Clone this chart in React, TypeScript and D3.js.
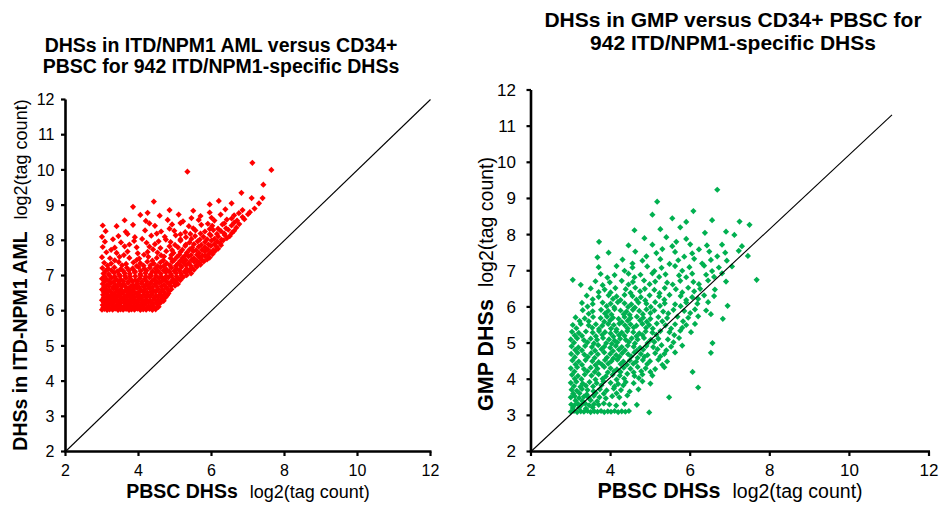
import React from "react";
import * as d3 from "d3";

// ---------- Data ----------
const yTicks = [2, 3, 4, 5, 6, 7, 8, 9, 10, 11, 12];
const xTicks = [2, 4, 6, 8, 10, 12];

const amlTitleLines = ["DHSs in ITD/NPM1 AML versus CD34+", "PBSC for 942 ITD/NPM1-specific DHSs"];
const gmpTitleLines = ["DHSs in GMP versus CD34+ PBSC for", "942 ITD/NPM1-specific DHSs"];

// [PBSC log2(tag count), AML log2(tag count)]
const amlPoints: [number, number][] = [
  [3.00,6.03],[3.07,6.05],[3.14,6.02],[3.21,6.04],[3.29,6.03],[3.36,6.06],[3.44,6.02],[3.51,6.04],[3.58,6.03],[3.66,6.05],[3.74,6.02],[3.81,6.04],[3.89,6.03],[3.97,6.06],[4.05,6.02],[4.13,6.04],[4.21,6.03],[4.30,6.05],[4.38,6.02],[4.47,6.04],
  [3.02,6.16],[3.12,6.14],[3.22,6.18],[3.31,6.13],[3.41,6.17],[3.50,6.15],[3.60,6.12],[3.69,6.18],[3.79,6.15],[3.88,6.13],[3.98,6.17],[4.08,6.14],[4.18,6.18],[4.28,6.13],[4.38,6.16],[4.50,6.19],[4.60,6.22],
  [3.00,6.30],[3.09,6.28],[3.18,6.33],[3.27,6.29],[3.37,6.31],[3.46,6.27],[3.55,6.33],[3.65,6.30],[3.74,6.28],[3.84,6.32],[3.93,6.29],[4.03,6.33],[4.12,6.28],[4.22,6.31],[4.32,6.27],[4.42,6.32],[4.53,6.30],[4.64,6.34],[4.74,6.38],
  [3.03,6.45],[3.13,6.47],[3.23,6.43],[3.33,6.46],[3.43,6.44],[3.53,6.48],[3.63,6.42],[3.73,6.46],[3.83,6.44],[3.94,6.48],[4.04,6.43],[4.15,6.46],[4.26,6.44],[4.37,6.48],[4.48,6.43],[4.59,6.47],[4.70,6.45],[4.82,6.49],
  [3.00,6.60],[3.10,6.62],[3.21,6.58],[3.31,6.63],[3.42,6.59],[3.52,6.61],[3.63,6.57],[3.74,6.62],[3.85,6.60],[3.96,6.64],[4.07,6.58],[4.18,6.61],[4.30,6.63],[4.41,6.58],[4.53,6.62],[4.65,6.60],[4.77,6.64],[4.90,6.61],
  [3.02,6.76],[3.14,6.74],[3.25,6.78],[3.37,6.73],[3.48,6.77],[3.60,6.75],[3.72,6.79],[3.84,6.73],[3.96,6.76],[4.08,6.78],[4.20,6.74],[4.32,6.77],[4.45,6.75],[4.57,6.79],[4.70,6.74],[4.83,6.77],[4.96,6.80],[5.08,6.76],
  [3.00,6.91],[3.13,6.89],[3.26,6.93],[3.39,6.90],[3.52,6.88],[3.65,6.93],[3.78,6.90],[3.91,6.87],[4.04,6.92],[4.17,6.90],[4.30,6.94],[4.43,6.89],[4.56,6.92],[4.69,6.90],[4.82,6.94],[4.95,6.89],[5.09,6.92],[5.22,6.95],
  [3.04,7.06],[3.18,7.04],[3.33,7.08],[3.47,7.03],[3.62,7.07],[3.76,7.05],[3.90,7.09],[4.05,7.04],[4.19,7.07],[4.33,7.03],[4.47,7.08],[4.61,7.05],[4.75,7.09],[4.89,7.04],[5.03,7.07],[5.17,7.05],[5.31,7.09],[5.44,7.06],
  [3.01,7.21],[3.17,7.19],[3.34,7.23],[3.51,7.18],[3.68,7.22],[3.84,7.20],[4.00,7.24],[4.16,7.19],[4.31,7.22],[4.46,7.20],[4.61,7.23],[4.76,7.18],[4.90,7.22],[5.04,7.20],[5.18,7.24],[5.32,7.19],[5.46,7.22],[5.60,7.25],
  [3.06,7.36],[3.25,7.34],[3.46,7.38],[3.66,7.33],[3.86,7.37],[4.05,7.35],[4.24,7.39],[4.42,7.34],[4.60,7.37],[4.77,7.35],[4.93,7.39],[5.08,7.34],[5.23,7.37],[5.38,7.35],[5.52,7.39],[5.66,7.36],[5.79,7.40],
  [3.00,7.52],[3.22,7.49],[3.48,7.53],[3.75,7.50],[4.02,7.48],[4.27,7.53],[4.50,7.50],[4.70,7.54],[4.88,7.49],[5.05,7.52],[5.21,7.50],[5.37,7.54],[5.52,7.49],[5.67,7.52],[5.82,7.55],[5.95,7.51],
  [3.12,7.66],[3.40,7.64],[3.70,7.68],[3.98,7.63],[4.25,7.67],[4.52,7.65],[4.76,7.69],[4.96,7.64],[5.15,7.67],[5.33,7.65],[5.50,7.69],[5.66,7.64],[5.82,7.68],[5.97,7.66],[6.10,7.70],
  [3.02,7.81],[3.35,7.79],[3.62,7.83],[3.95,7.80],[4.30,7.82],[4.60,7.78],[4.85,7.83],[5.08,7.80],[5.28,7.84],[5.47,7.79],[5.65,7.82],[5.82,7.80],[5.98,7.84],[6.14,7.81],[6.26,7.86],
  [3.08,7.96],[3.52,7.94],[3.88,7.98],[4.22,7.93],[4.55,7.97],[4.88,7.95],[5.15,7.99],[5.40,7.94],[5.62,7.97],[5.82,7.95],[6.00,7.99],[6.16,7.96],[6.32,8.00],
  [3.00,8.10],[3.45,8.12],[3.90,8.09],[4.35,8.13],[4.72,8.10],[5.02,8.14],[5.30,8.09],[5.55,8.12],[5.78,8.10],[5.98,8.14],[6.18,8.11],[6.36,8.15],[6.50,8.12],
  [3.10,8.26],[3.65,8.24],[4.18,8.28],[4.62,8.25],[4.98,8.27],[5.28,8.23],[5.56,8.28],[5.82,8.25],[6.05,8.29],[6.26,8.26],[6.46,8.30],[6.62,8.27],
  [3.02,8.42],[3.40,8.40],[3.85,8.44],[4.45,8.41],[4.92,8.45],[5.38,8.40],[5.72,8.44],[6.02,8.41],[6.30,8.45],[6.55,8.42],[6.76,8.46],
  [3.62,8.57],[4.20,8.55],[4.80,8.58],[5.22,8.54],[5.65,8.58],[6.08,8.56],[6.42,8.59],[6.70,8.56],[6.90,8.60],
  [4.05,8.72],[4.58,8.70],[5.10,8.73],[5.70,8.69],[6.25,8.73],[6.62,8.71],[7.00,8.74],
  [3.85,8.95],[4.85,8.86],[5.50,8.84],[6.38,8.88],[6.85,8.86],[7.18,8.90],
  [4.42,9.10],[5.95,9.02],[6.55,9.05],[7.10,9.20],[7.40,9.20],[6.82,9.35],[6.20,9.12],[7.42,9.58],[5.34,9.95],[7.12,10.20],[7.64,10.00],[7.30,9.05]
];

// additional AML points filling the dense lower cluster and the scattered upper part
const amlPointsFill: [number, number][] = [
  [3.04,6.09],[3.17,6.10],[3.27,6.08],[3.36,6.10],[3.46,6.09],[3.55,6.08],[3.64,6.10],[3.74,6.09],[3.84,6.10],[3.93,6.08],[4.03,6.10],[4.13,6.09],[4.23,6.08],[4.33,6.10],[4.43,6.09],[4.55,6.11],
  [3.05,6.23],[3.14,6.24],[3.23,6.22],[3.32,6.23],[3.42,6.24],[3.51,6.22],[3.60,6.23],[3.70,6.24],[3.79,6.22],[3.89,6.23],[3.98,6.24],[4.08,6.22],[4.17,6.23],[4.27,6.24],[4.37,6.22],[4.48,6.23],[4.58,6.25],[4.69,6.28],
  [3.05,6.38],[3.14,6.39],[3.23,6.37],[3.32,6.38],[3.42,6.39],[3.51,6.37],[3.60,6.38],[3.70,6.39],[3.79,6.37],[3.89,6.38],[3.99,6.39],[4.09,6.37],[4.20,6.38],[4.31,6.39],[4.42,6.37],[4.53,6.38],[4.65,6.40],[4.78,6.43],
  [3.05,6.53],[3.16,6.54],[3.26,6.52],[3.37,6.53],[3.47,6.54],[3.58,6.52],[3.69,6.53],[3.79,6.54],[3.90,6.52],[4.01,6.53],[4.12,6.54],[4.24,6.52],[4.35,6.53],[4.47,6.54],[4.59,6.52],[4.71,6.53],[4.84,6.56],
  [3.06,6.68],[3.19,6.69],[3.31,6.67],[3.42,6.68],[3.54,6.69],[3.66,6.67],[3.78,6.68],[3.90,6.69],[4.02,6.67],[4.14,6.68],[4.26,6.69],[4.38,6.67],[4.51,6.68],[4.63,6.69],[4.76,6.67],[4.89,6.69],[5.00,6.71],
  [3.07,6.83],[3.20,6.84],[3.32,6.82],[3.45,6.83],[3.58,6.84],[3.71,6.82],[3.84,6.83],[3.97,6.84],[4.10,6.82],[4.23,6.83],[4.37,6.84],[4.50,6.82],[4.63,6.83],[4.76,6.84],[4.89,6.82],[5.02,6.84],[5.15,6.87],
  [3.07,6.98],[3.21,6.99],[3.35,6.97],[3.49,6.98],[3.63,6.99],[3.77,6.97],[3.91,6.98],[4.06,6.99],[4.20,6.97],[4.34,6.98],[4.48,6.99],[4.62,6.97],[4.76,6.98],[4.90,6.99],[5.04,6.97],[5.18,6.99],[5.32,7.01],
  [3.10,7.13],[3.26,7.14],[3.42,7.12],[3.58,7.13],[3.74,7.14],[3.90,7.12],[4.06,7.13],[4.22,7.14],[4.38,7.12],[4.54,7.13],[4.69,7.14],[4.84,7.12],[4.98,7.13],[5.12,7.14],[5.26,7.12],[5.40,7.14],[5.52,7.16],
  [3.15,7.28],[3.55,7.29],[3.95,7.27],[4.14,7.28],[4.33,7.29],[4.52,7.27],[4.70,7.28],[4.86,7.29],[5.02,7.27],[5.16,7.28],[5.30,7.29],[5.44,7.27],[5.58,7.29],[5.70,7.31],
  [3.35,7.43],[3.95,7.44],[4.38,7.42],[4.68,7.43],[4.98,7.44],[5.15,7.42],[5.30,7.43],[5.45,7.44],[5.60,7.42],[5.74,7.44],[5.88,7.46],
  [3.60,7.58],[4.15,7.59],[4.62,7.57],[4.90,7.58],[5.12,7.59],[5.28,7.57],[5.44,7.58],[5.60,7.59],[5.75,7.57],[5.90,7.59],[6.03,7.61],
  [3.25,7.73],[4.40,7.74],[4.92,7.72],[5.20,7.73],[5.40,7.74],[5.58,7.72],[5.74,7.73],[5.90,7.74],[6.05,7.72],[6.18,7.76],
  [3.75,7.88],[4.45,7.89],[5.00,7.87],[5.30,7.88],[5.52,7.89],[5.72,7.87],[5.92,7.88],[6.08,7.89],[6.24,7.91],
  [3.30,8.03],[4.10,8.04],[4.75,8.02],[5.15,8.03],[5.45,8.04],[5.68,8.02],[5.88,8.03],[6.08,8.04],[6.27,8.02],[6.42,8.06],
  [3.70,8.18],[4.50,8.19],[5.15,8.17],[5.42,8.18],[5.70,8.19],[5.95,8.17],[6.15,8.18],[6.35,8.19],[6.56,8.21],
  [4.85,8.33],[5.50,8.34],[5.95,8.32],[6.18,8.33],[6.40,8.34],[6.68,8.36],
  [4.30,8.48],[5.15,8.49],[5.90,8.47],[6.35,8.48],[6.62,8.50],
  [5.45,8.63],[6.00,8.64],[6.55,8.62],[6.85,8.66],
  [4.25,8.78],[5.95,8.79],[6.75,8.77],[7.05,8.80]
];

// [PBSC log2(tag count), GMP log2(tag count)]
const gmpPoints: [number, number][] = [
  [3.00,3.10],[3.08,3.12],[3.16,3.09],[3.25,3.11],[3.33,3.10],[3.42,3.12],[3.50,3.09],[3.59,3.11],[3.67,3.10],[3.76,3.12],[3.84,3.09],[3.93,3.11],[4.01,3.10],[4.10,3.12],[4.19,3.09],[4.28,3.11],[4.37,3.10],[4.46,3.12],[4.97,3.08],
  [3.01,3.30],[3.09,3.28],[3.18,3.32],[3.27,3.29],[3.36,3.33],[3.46,3.28],[3.58,3.31],[3.70,3.29],[3.83,3.33],[3.97,3.30],[4.14,3.27],[4.35,3.32],[4.66,3.29],
  [3.00,3.50],[3.10,3.53],[3.21,3.48],[3.33,3.52],[3.45,3.49],[3.58,3.54],[3.72,3.50],[3.88,3.47],[4.04,3.53],[4.22,3.50],[4.42,3.55],[5.47,3.50],
  [3.02,3.71],[3.15,3.68],[3.28,3.73],[3.42,3.70],[3.57,3.67],[3.73,3.72],[3.90,3.69],[4.08,3.74],[4.26,3.70],[4.48,3.66],[4.70,3.72],[6.20,3.77],
  [3.00,3.90],[3.14,3.93],[3.30,3.88],[3.47,3.92],[3.65,3.89],[3.82,3.94],[4.00,3.90],[4.19,3.87],[4.38,3.92],[4.58,3.89],[4.80,3.94],[5.00,3.88],
  [3.03,4.12],[3.18,4.09],[3.35,4.13],[3.52,4.10],[3.70,4.14],[3.88,4.08],[4.05,4.12],[4.23,4.10],[4.42,4.15],[4.60,4.09],[4.80,4.13],[5.05,4.10],[6.06,4.20],
  [3.00,4.30],[3.16,4.33],[3.33,4.28],[3.50,4.32],[3.67,4.29],[3.84,4.34],[4.00,4.30],[4.16,4.27],[4.33,4.32],[4.50,4.29],[4.68,4.34],[4.88,4.30],[5.12,4.28],[5.35,4.33],
  [3.04,4.52],[3.20,4.49],[3.37,4.53],[3.54,4.50],[3.70,4.47],[3.86,4.53],[4.02,4.50],[4.17,4.54],[4.32,4.49],[4.48,4.52],[4.64,4.48],[4.81,4.53],[4.99,4.50],[5.20,4.54],[5.42,4.49],
  [3.01,4.70],[3.17,4.73],[3.34,4.68],[3.51,4.72],[3.68,4.69],[3.84,4.74],[3.99,4.70],[4.14,4.67],[4.29,4.72],[4.44,4.69],[4.60,4.74],[4.76,4.70],[4.93,4.67],[5.12,4.72],[5.35,4.70],[5.62,4.74],[6.52,4.73],
  [3.02,4.91],[3.19,4.88],[3.36,4.92],[3.53,4.89],[3.69,4.94],[3.84,4.90],[3.99,4.87],[4.13,4.92],[4.28,4.89],[4.43,4.93],[4.58,4.90],[4.74,4.87],[4.90,4.92],[5.07,4.89],[5.28,4.94],[5.52,4.90],[5.80,4.93],
  [3.00,5.10],[3.16,5.13],[3.33,5.08],[3.50,5.12],[3.66,5.09],[3.81,5.14],[3.96,5.10],[4.10,5.07],[4.24,5.12],[4.38,5.09],[4.53,5.13],[4.68,5.10],[4.84,5.14],[5.01,5.09],[5.20,5.12],[5.44,5.10],[5.72,5.14],[6.56,5.00],
  [3.03,5.31],[3.20,5.28],[3.38,5.32],[3.55,5.29],[3.71,5.33],[3.86,5.30],[4.00,5.27],[4.14,5.32],[4.28,5.29],[4.42,5.33],[4.57,5.30],[4.72,5.27],[4.88,5.32],[5.05,5.29],[5.25,5.33],[5.48,5.30],[5.75,5.34],[6.02,5.30],
  [3.05,5.50],[3.25,5.53],[3.45,5.49],[3.63,5.52],[3.79,5.48],[3.94,5.53],[4.08,5.50],[4.22,5.54],[4.36,5.49],[4.50,5.52],[4.65,5.48],[4.80,5.53],[4.97,5.50],[5.16,5.54],[5.38,5.49],[5.62,5.52],[5.90,5.50],[6.12,5.53],
  [3.12,5.71],[3.35,5.68],[3.56,5.72],[3.75,5.69],[3.91,5.73],[4.06,5.70],[4.20,5.67],[4.35,5.72],[4.50,5.69],[4.66,5.73],[4.82,5.70],[5.00,5.67],[5.20,5.72],[5.42,5.69],[5.68,5.73],[5.95,5.70],[6.20,5.74],[6.82,5.67],
  [3.30,5.91],[3.55,5.88],[3.76,5.92],[3.94,5.89],[4.10,5.94],[4.25,5.90],[4.40,5.87],[4.56,5.92],[4.72,5.89],[4.90,5.93],[5.10,5.90],[5.32,5.87],[5.58,5.92],[5.85,5.89],[6.12,5.93],[6.40,5.90],[6.52,5.80],
  [3.28,6.11],[3.55,6.08],[3.80,6.12],[4.00,6.09],[4.18,6.13],[4.35,6.10],[4.52,6.07],[4.70,6.12],[4.90,6.09],[5.12,6.13],[5.36,6.10],[5.62,6.07],[5.90,6.12],[6.18,6.09],[6.45,6.13],[6.94,6.03],
  [3.40,6.31],[3.70,6.28],[3.95,6.32],[4.15,6.29],[4.35,6.33],[4.55,6.30],[4.76,6.27],[4.98,6.32],[5.22,6.29],[5.48,6.33],[5.76,6.30],[6.05,6.27],[6.35,6.32],[6.60,6.30],
  [3.50,6.51],[3.85,6.48],[4.12,6.52],[4.38,6.49],[4.62,6.53],[4.86,6.50],[5.10,6.47],[5.36,6.52],[5.64,6.49],[5.95,6.53],[6.25,6.50],[6.62,6.48],
  [3.05,6.75],[3.62,6.71],[3.98,6.68],[4.28,6.72],[4.56,6.69],[4.84,6.73],[5.12,6.70],[5.42,6.67],[5.75,6.72],[6.08,6.69],[6.45,6.73],[6.90,6.70],[7.67,6.75],
  [3.75,6.91],[4.10,6.88],[4.45,6.92],[4.75,6.89],[5.05,6.93],[5.38,6.90],[5.72,6.87],[6.05,6.92],[6.40,6.89],[6.80,6.93],
  [3.70,7.10],[4.15,7.13],[4.55,7.09],[4.92,7.12],[5.28,7.08],[5.62,7.13],[5.98,7.10],[6.35,7.14],[6.72,7.09],[7.05,7.12],
  [3.67,7.37],[4.30,7.31],[4.80,7.28],[5.25,7.32],[5.70,7.29],[6.10,7.33],[6.52,7.30],[6.92,7.28],[7.45,7.41],
  [3.95,7.50],[4.62,7.53],[5.15,7.49],[5.62,7.52],[6.05,7.48],[6.48,7.53],[6.88,7.50],[7.22,7.55],
  [4.45,7.70],[5.05,7.72],[5.55,7.68],[6.00,7.73],[6.42,7.70],[6.80,7.72],[7.30,7.68],
  [3.71,7.80],[4.85,7.90],[5.40,7.93],[5.90,7.88],[6.37,8.05],[6.90,8.08],[7.11,7.99],
  [4.60,8.12],[5.25,8.15],[5.75,8.20],[7.24,8.36],[7.49,8.27],[5.55,8.45],[6.08,8.65],[5.05,8.55],[5.17,8.91],[6.68,9.24],[6.55,8.40],[5.90,8.35]
];

// additional GMP points between the rows above
const gmpPointsFill: [number, number][] = [
  [3.05,3.20],[3.21,3.21],[3.38,3.19],[3.55,3.22],[3.12,3.41],[3.29,3.40],[3.50,3.42],[3.66,3.39],[3.06,3.60],[3.22,3.61],[3.40,3.58],[3.63,3.62],[3.83,3.60],[4.15,3.61],
  [3.08,3.81],[3.24,3.79],[3.38,3.82],[3.56,3.80],[3.77,3.83],[4.10,3.80],[4.32,3.83],
  [3.10,4.01],[3.27,4.00],[3.62,3.99],[3.80,4.01],[4.15,3.99],[4.34,4.02],[4.71,4.03],
  [3.09,4.21],[3.42,4.22],[3.60,4.20],[3.93,4.19],[4.09,4.22],[4.25,4.20],[4.58,4.19],[4.77,4.22],[5.00,4.20],
  [3.12,4.41],[3.28,4.40],[3.62,4.39],[3.78,4.41],[3.94,4.43],[4.25,4.42],[4.41,4.40],[4.57,4.43],[4.92,4.42],[5.30,4.40],
  [3.10,4.61],[3.43,4.62],[3.60,4.59],[3.91,4.60],[4.07,4.58],[4.22,4.62],[4.52,4.63],[4.68,4.59],[4.85,4.62],[5.25,4.63],
  [3.11,4.81],[3.28,4.80],[3.61,4.79],[3.77,4.83],[4.06,4.78],[4.21,4.82],[4.36,4.80],[4.66,4.79],[4.82,4.82],[5.18,4.83],[5.40,4.80],
  [3.08,5.01],[3.42,5.02],[3.58,4.99],[3.89,5.00],[4.03,4.98],[4.17,5.02],[4.46,5.03],[4.61,4.99],[4.93,5.00],[5.10,5.03],[5.58,5.02],
  [3.10,5.21],[3.28,5.20],[3.63,5.19],[3.79,5.23],[4.07,5.18],[4.21,5.22],[4.35,5.20],[4.65,5.19],[4.80,5.22],[5.15,5.23],[5.60,5.22],
  [3.14,5.41],[3.54,5.42],[3.71,5.39],[4.01,5.40],[4.15,5.38],[4.43,5.40],[4.58,5.43],[4.89,5.42],[5.06,5.40],[5.52,5.40],[5.80,5.42],
  [3.22,5.61],[3.45,5.60],[3.84,5.59],[3.99,5.63],[4.28,5.58],[4.43,5.62],[4.74,5.63],[4.91,5.59],[5.30,5.60],[5.82,5.60],
  [3.45,5.81],[3.86,5.82],[4.02,5.79],[4.33,5.80],[4.48,5.78],[4.81,5.80],[5.00,5.83],[5.45,5.82],[6.00,5.83],
  [3.42,6.01],[3.90,6.02],[4.09,5.99],[4.44,6.00],[4.61,5.98],[5.01,6.00],[5.24,6.03],[5.76,6.02],
  [3.55,6.21],[4.06,6.22],[4.25,6.19],[4.65,6.20],[4.87,6.18],[5.35,6.20],[5.90,6.19],[6.20,6.22],
  [3.70,6.41],[4.00,6.40],[4.50,6.39],[4.74,6.43],[5.23,6.38],[5.80,6.40],[6.10,6.43],
  [3.25,6.61],[3.80,6.60],[4.45,6.62],[4.98,6.63],[5.56,6.62],[6.22,6.63],
  [3.92,6.81],[4.60,6.82],[5.22,6.83],[5.90,6.82],[6.60,6.83],
  [4.35,7.00],[5.10,6.99],[5.80,7.00],[6.55,6.99],
  [4.55,7.20],[5.48,7.19],[6.30,7.20],[4.90,7.40],[5.85,7.39],[6.68,7.40],[5.30,7.60],[6.22,7.59],[5.65,7.80]
];

// Diagonal reference lines [x, y]
const amlDiagonal: [number, number][] = [[2, 2], [12, 12]];
const gmpDiagonal: [number, number][] = [[2, 2], [11.07, 11.31]];

const FONT = "'Liberation Sans', Arial, Helvetica, sans-serif";

type PanelProps = {
  points: [number, number][];
  diagonal: [number, number][];
  color: string;
  xRange: [number, number];
  yRange: [number, number];
  tickFont: number;
  yLabelGap: number;
  titleLines: string[];
  titleX: number;
  titleY: number[];
  titleSize: number;
  yTitleBold: string;
  yTitlePos: [number, number];
  xTitlePos: [number, number];
  boldSize: number;
  regSize: number;
};

function Panel(p: PanelProps) {
  const x = d3.scaleLinear().domain([2, 12]).range(p.xRange);
  const y = d3.scaleLinear().domain([2, 12]).range(p.yRange);
  const line = d3.line<[number, number]>().x((d) => x(d[0])).y((d) => y(d[1]));
  const diamond = "M0,-3.1L3.1,0L0,3.1L-3.1,0Z";
  const x0 = x(2);
  const y0 = y(2);
  return (
    <g fontFamily={FONT}>
      {p.titleLines.map((t, i) => (
        <text key={i} x={p.titleX} y={p.titleY[i]} textAnchor="middle" fontWeight="bold" fontSize={p.titleSize} fill="#000">
          {t}
        </text>
      ))}
      <g>
        {p.points.map((d, i) => (
          <path key={i} d={diamond} transform={`translate(${x(d[0])},${y(d[1])})`} fill={p.color} />
        ))}
      </g>
      <path d={line(p.diagonal) || ""} stroke="#000" strokeWidth={1.1} fill="none" />
      {/* y axis */}
      <line x1={x0} x2={x0} y1={y(12)} y2={y0} stroke="#000" strokeWidth={2.6} />
      {yTicks.map((t) => (
        <g key={t}>
          <line x1={x0 - 4.5} x2={x0} y1={y(t)} y2={y(t)} stroke="#000" strokeWidth={2.2} />
          <text x={x0 - p.yLabelGap} y={y(t)} dy="0.35em" textAnchor="end" fontSize={p.tickFont} fill="#000">
            {t}
          </text>
        </g>
      ))}
      {/* x axis */}
      <line x1={x0 - 1.3} x2={x(12) + 1} y1={y0} y2={y0} stroke="#000" strokeWidth={2.6} />
      {xTicks.map((t) => (
        <g key={t}>
          <line x1={x(t)} x2={x(t)} y1={y0} y2={y0 + 4.5} stroke="#000" strokeWidth={2.2} />
          <text x={x(t)} y={y0 + 24} textAnchor="middle" fontSize={p.tickFont} fill="#000">
            {t}
          </text>
        </g>
      ))}
      <text transform={`translate(${p.yTitlePos[0]},${p.yTitlePos[1]}) rotate(-90)`} textAnchor="middle" fill="#000">
        <tspan fontWeight="bold" fontSize={p.boldSize}>{p.yTitleBold}</tspan>
        <tspan fontSize={p.regSize} dx={12}>log2(tag count)</tspan>
      </text>
      <text x={p.xTitlePos[0]} y={p.xTitlePos[1]} textAnchor="middle" fill="#000">
        <tspan fontWeight="bold" fontSize={p.boldSize}>PBSC DHSs</tspan>
        <tspan fontSize={p.regSize} dx={12}>log2(tag count)</tspan>
      </text>
    </g>
  );
}

export default function App() {
  return (
    <svg width={940} height={506} style={{ position: "absolute", left: 0, top: 0, background: "#fff" }}>
      <rect width={940} height={506} fill="#fff" />
      <Panel
        points={[...amlPoints, ...amlPointsFill]}
        diagonal={amlDiagonal}
        color="#ff0000"
        xRange={[65.5, 430.5]}
        yRange={[451.5, 99.5]}
        tickFont={16}
        yLabelGap={11}
        titleLines={amlTitleLines}
        titleX={221}
        titleY={[52, 73]}
        titleSize={19.5}
        yTitleBold="DHSs in ITD-NPM1 AML"
        yTitlePos={[27, 275]}
        xTitlePos={[248, 498]}
        boldSize={19.5}
        regSize={18}
      />
      <Panel
        points={[...gmpPoints, ...gmpPointsFill]}
        diagonal={gmpDiagonal}
        color="#00b050"
        xRange={[531, 929]}
        yRange={[451.5, 90]}
        tickFont={17}
        yLabelGap={15}
        titleLines={gmpTitleLines}
        titleX={733}
        titleY={[27, 50]}
        titleSize={21}
        yTitleBold="GMP DHSs"
        yTitlePos={[493, 284]}
        xTitlePos={[730, 498]}
        boldSize={21.5}
        regSize={19.5}
      />
    </svg>
  );
}
